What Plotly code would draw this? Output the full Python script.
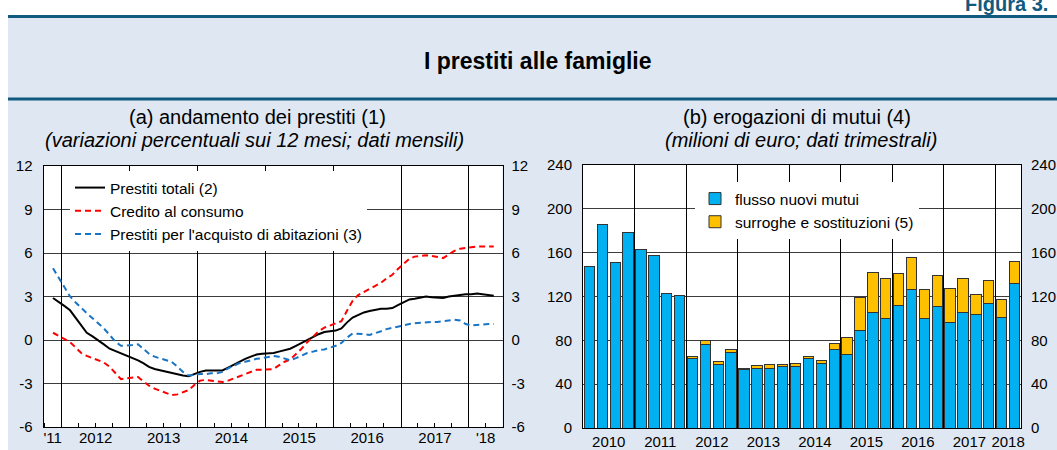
import pandas as pd
import plotly.graph_objects as go

W, H = 1057, 450
FONT = "Liberation Sans, Arial, sans-serif"
TEAL = "#105A80"
BAND = "#DFE8F2"

# ---- panel (a): variazioni percentuali sui 12 mesi, dati mensili (nov 2011 - mag 2018)
all_months = [f"{y}-{m:02d}-15" for y in range(2011, 2019) for m in range(1, 13)]
months = all_months[all_months.index("2011-11-15"):all_months.index("2018-05-15") + 1]

prestiti_totali = [2.9, 2.6, 2.35, 2.05, 1.55, 1.0, 0.5, 0.25, -0.05, -0.3,
                   -0.6, -0.75, -0.9, -1.05, -1.25, -1.4, -1.6, -1.85, -2.0, -2.1,
                   -2.2, -2.3, -2.35, -2.45, -2.5, -2.35, -2.2, -2.1, -2.1, -2.1,
                   -2.1, -1.9, -1.7, -1.5, -1.3, -1.15, -1.0, -0.95, -0.95, -0.9,
                   -0.8, -0.7, -0.6, -0.4, -0.2, 0.0, 0.2, 0.4, 0.55, 0.6,
                   0.65, 0.8, 1.2, 1.55, 1.75, 1.9, 2.0, 2.1, 2.15, 2.15,
                   2.2, 2.4, 2.6, 2.8, 2.85, 2.95, 3.0, 2.95, 2.9, 2.9,
                   3.0, 3.05, 3.1, 3.15, 3.15, 3.2, 3.15, 3.1, 3.05]
credito_consumo = [0.5, 0.3, 0.1, -0.15, -0.5, -0.9, -1.1, -1.25, -1.35, -1.55,
                   -1.85, -2.3, -2.7, -2.65, -2.6, -2.55, -2.85, -3.15, -3.35, -3.5,
                   -3.65, -3.8, -3.75, -3.6, -3.45, -3.1, -2.8, -2.75, -2.8, -2.85,
                   -2.9, -2.8, -2.65, -2.5, -2.3, -2.15, -2.05, -2.05, -2.05, -2.0,
                   -1.75, -1.5, -1.35, -1.0, -0.6, -0.15, 0.25, 0.6, 0.85, 1.0,
                   1.1, 1.3, 2.0, 2.7, 3.1, 3.3, 3.5, 3.7, 3.95, 4.25,
                   4.5, 4.9, 5.25, 5.6, 5.75, 5.8, 5.85, 5.8, 5.7, 5.65,
                   5.9, 6.15, 6.3, 6.35, 6.45, 6.45, 6.45, 6.45, 6.45]
prestiti_abitazioni = [4.95, 4.3, 3.6, 3.0, 2.6, 2.2, 1.85, 1.5, 1.15, 0.8,
                       0.35, -0.1, -0.4, -0.4, -0.35, -0.3, -0.6, -0.95, -1.15, -1.25,
                       -1.35, -1.5, -1.85, -2.2, -2.45, -2.4, -2.35, -2.35, -2.3, -2.3,
                       -2.2, -1.95, -1.75, -1.6, -1.5, -1.4, -1.3, -1.25, -1.15, -1.1,
                       -1.15, -1.3, -1.4, -1.25, -1.05, -0.9, -0.8, -0.7, -0.65, -0.55,
                       -0.4, -0.2, 0.15, 0.45, 0.45, 0.4, 0.35, 0.45, 0.6, 0.75,
                       0.85, 0.95, 1.05, 1.1, 1.15, 1.2, 1.2, 1.25, 1.25, 1.3,
                       1.35, 1.4, 1.35, 1.1, 1.0, 1.05, 1.05, 1.1, 1.1]
years_a = list(range(2011, 2019))
year_labels_a = ["'11", "2012", "2013", "2014", "2015", "2016", "2017", "'18"]
yticks_a = [-6, -3, 0, 3, 6, 9, 12]

# ---- panel (b): erogazioni di mutui, milioni di euro, dati trimestrali (2010 T1 - 2018 T2)
quarters = [f"{y} T{q}" for y in range(2010, 2019) for q in range(1, 5)][:34]
flusso_nuovi = [147, 186, 151, 178, 163, 157, 122.5, 121,
                63, 76, 58, 69, 53, 54, 54.5, 56,
                56.5, 63.5, 59, 72, 67.5, 89, 105, 99.5,
                112, 126, 100, 111, 96.5, 105.5, 103.5, 114,
                101, 132]
surroghe = [None, None, None, None, None, None, None, None,
            2.3, 4, 2.3, 2.4, 1.7, 3, 3, 2.2,
            2.5, 2.1, 3, 5, 15.5, 30, 37, 36.5,
            29, 30, 26, 28, 30.5, 30.5, 18, 21,
            16.6, 20]
years_b = list(range(2010, 2019))
yticks_b = [0, 40, 80, 120, 160, 200, 240]


def fx(p):
    return p / W


def fy(p):
    return 1 - p / H


fig = go.Figure()

fig.add_trace(go.Scatter(x=months, y=prestiti_totali, name="Prestiti totali (2)", mode="lines",
                         line=dict(color="black", width=2), xaxis="x", yaxis="y", legend="legend"))
fig.add_trace(go.Scatter(x=months, y=credito_consumo, name="Credito al consumo", mode="lines",
                         line=dict(color="#FF0000", width=2, dash="6px,4px"), xaxis="x", yaxis="y",
                         legend="legend"))
fig.add_trace(go.Scatter(x=months, y=prestiti_abitazioni,
                         name="Prestiti per l'acquisto di abitazioni (3)", mode="lines",
                         line=dict(color="#1A74C4", width=2, dash="6px,4px"), xaxis="x", yaxis="y",
                         legend="legend"))

fig.add_trace(go.Bar(x=quarters, y=flusso_nuovi, name="flusso nuovi mutui",
                     marker=dict(color="#00B0F0", line=dict(color="#333333", width=1)),
                     xaxis="x2", yaxis="y3", legend="legend2"))
fig.add_trace(go.Bar(x=quarters, y=surroghe, name="surroghe e sostituzioni (5)",
                     marker=dict(color="#FFC000", line=dict(color="#333333", width=1)),
                     xaxis="x2", yaxis="y3", legend="legend2"))

# empty traces so that the extra (tick / grid / mirrored) axes get drawn
for xa, ya in [("x3", "y"), ("x5", "y"), ("x", "y2"), ("x4", "y3"), ("x6", "y3"), ("x2", "y4")]:
    fig.add_trace(go.Scatter(x=[], y=[], xaxis=xa, yaxis=ya, showlegend=False, hoverinfo="skip"))

# x axis geometry of panel (a)
range_a = [pd.Timestamp("2011-09-25"), pd.Timestamp("2018-07-01")]
year_starts_a = [f"{y}-01-01" for y in years_a[1:]]
quarter_ticks_a = [d.strftime("%Y-%m-%d") for d in pd.date_range("2011-10-01", "2018-07-01", freq="QS")]
label_pos_a = []
for y in years_a:
    s = max(pd.Timestamp(f"{y}-01-01"), range_a[0])
    e = min(pd.Timestamp(f"{y + 1}-01-01"), range_a[1])
    label_pos_a.append((s + (e - s) / 2).strftime("%Y-%m-%d %H:%M"))
range_a_str = [d.strftime("%Y-%m-%d") for d in range_a]

# x axis geometry of panel (b)
year_idx = {y: [i for i, q in enumerate(quarters) if q.startswith(str(y))] for y in years_b}
label_pos_b = [sum(v) / len(v) for v in year_idx.values()]
bounds_b = [v[0] - 0.5 for y, v in year_idx.items() if y != years_b[0]]
range_b = [-0.5, len(quarters) - 0.5]

tickfont = dict(family=FONT, size=15, color="black")
grid = "#3C3C3C"
hidden = dict(showticklabels=False, ticks="", showline=False, zeroline=False, automargin=False)
ytext_a = [str(v) for v in yticks_a]
ytext_b = [str(v) for v in yticks_b]

fig.update_layout(
    width=W, height=H, autosize=False,
    margin=dict(l=0, r=0, t=0, b=0, pad=0),
    paper_bgcolor=BAND, plot_bgcolor="white",
    font=dict(family=FONT, color="black"),
    barmode="stack", bargap=0.2,
    showlegend=True,
    # panel (a) axes
    xaxis=dict(domain=[fx(43.5), fx(502.5)], anchor="y", type="date", range=range_a_str,
               tickmode="array", tickvals=label_pos_a, ticktext=year_labels_a,
               ticks="", showgrid=False, zeroline=False, automargin=False,
               showline=True, mirror=True, linecolor="black", linewidth=1,
               tickfont=tickfont, ticklabelstandoff=-3),
    xaxis3=dict(overlaying="x", anchor="y", type="date", range=range_a_str,
                tickmode="array", tickvals=quarter_ticks_a, ticks="inside", ticklen=4,
                tickcolor="black", showticklabels=False, showgrid=False, showline=False,
                zeroline=False, automargin=False),
    xaxis5=dict(overlaying="x", anchor="y", type="date", range=range_a_str,
                tickmode="array", tickvals=year_starts_a, showgrid=True, gridcolor="black",
                gridwidth=1, **hidden),
    yaxis=dict(domain=[fy(427), fy(166)], anchor="x", range=[-6, 12],
               tickmode="array", tickvals=yticks_a, ticktext=ytext_a, ticks="", showgrid=True,
               gridcolor=grid, gridwidth=1, zeroline=False, automargin=False,
               showline=True, mirror=True, linecolor="black", linewidth=1,
               tickfont=tickfont, ticklabelstandoff=7),
    yaxis2=dict(overlaying="y", anchor="x", side="right", range=[-6, 12],
                tickmode="array", tickvals=yticks_a, ticktext=ytext_a, ticks="", showgrid=False,
                automargin=False, zeroline=False, showline=False, tickfont=tickfont,
                ticklabelstandoff=8),
    # panel (b) axes
    xaxis2=dict(domain=[fx(583), fx(1021)], anchor="y3", type="category", range=range_b,
                showticklabels=False, ticks="", showgrid=False, zeroline=False, automargin=False,
                showline=True, mirror=True, linecolor="black", linewidth=1),
    xaxis4=dict(overlaying="x2", anchor="y3", type="linear", range=range_b,
                tickmode="array", tickvals=label_pos_b, ticktext=[str(y) for y in years_b],
                ticks="", showgrid=False, zeroline=False, showline=False, automargin=False,
                tickfont=tickfont, ticklabelstandoff=3),
    xaxis6=dict(overlaying="x2", anchor="y3", type="linear", range=range_b,
                tickmode="array", tickvals=bounds_b, showgrid=True, gridcolor="black",
                gridwidth=1, **hidden),
    yaxis3=dict(domain=[fy(428), fy(165)], anchor="x2", range=[0, 240],
                tickmode="array", tickvals=yticks_b, ticktext=ytext_b, ticks="", showgrid=True,
                gridcolor=grid, gridwidth=1, zeroline=False, automargin=False,
                showline=True, mirror=True, linecolor="black", linewidth=1,
                tickfont=tickfont, ticklabelstandoff=7),
    yaxis4=dict(overlaying="y3", anchor="x2", side="right", range=[0, 240],
                tickmode="array", tickvals=yticks_b, ticktext=ytext_b, ticks="", showgrid=False,
                automargin=False, zeroline=False, showline=False, tickfont=tickfont,
                ticklabelstandoff=9),
    legend=dict(x=fx(70), y=fy(171), xanchor="left", yanchor="top",
                bgcolor="white", borderwidth=0, tracegroupgap=0,
                font=dict(family=FONT, size=15.5, color="black")),
    legend2=dict(x=fx(695), y=fy(182), xanchor="left", yanchor="top",
                 bgcolor="white", borderwidth=0, tracegroupgap=0, traceorder="normal",
                 font=dict(family=FONT, size=15.5, color="black")),
)

# frame of the page: white margins, dark rules
fig.add_shape(type="rect", xref="paper", yref="paper", x0=0, x1=1, y0=fy(15), y1=1,
              fillcolor="white", line_width=0, layer="above")
fig.add_shape(type="rect", xref="paper", yref="paper", x0=0, x1=fx(8), y0=0, y1=1,
              fillcolor="white", line_width=0, layer="above")
for top, bot in [(15, 18), (97.5, 100.5)]:
    fig.add_shape(type="rect", xref="paper", yref="paper", x0=fx(8), x1=1, y0=fy(bot), y1=fy(top),
                  fillcolor=TEAL, line_width=0, layer="above")

texts = [
    dict(text="<b>Figura 3.</b>", x=fx(963), y=fy(4), xanchor="left", size=20, color=TEAL),
    dict(text="<b>I prestiti alle famiglie</b>", x=fx(538), y=fy(60.5), xanchor="center", size=23, color="black"),
    dict(text="(a) andamento dei prestiti (1)", x=fx(257), y=fy(117), xanchor="center", size=20, color="black"),
    dict(text="<i>(variazioni percentuali sui 12 mesi; dati mensili)</i>", x=fx(254), y=fy(140),
         xanchor="center", size=20, color="black"),
    dict(text="(b) erogazioni di mutui (4)", x=fx(797), y=fy(117), xanchor="center", size=20, color="black"),
    dict(text="<i>(milioni di euro; dati trimestrali)</i>", x=fx(801), y=fy(140),
         xanchor="center", size=20, color="black"),
]
for t in texts:
    fig.add_annotation(text=t["text"], x=t["x"], y=t["y"], xref="paper", yref="paper",
                       xanchor=t["xanchor"], yanchor="middle", showarrow=False,
                       font=dict(family=FONT, size=t["size"], color=t["color"]))

# the page has no body margin, so the figure sits at the window's top-left corner
fig.write_html("out.html", config={"displayModeBar": False},
               post_script="document.body.style.margin = '0';")
